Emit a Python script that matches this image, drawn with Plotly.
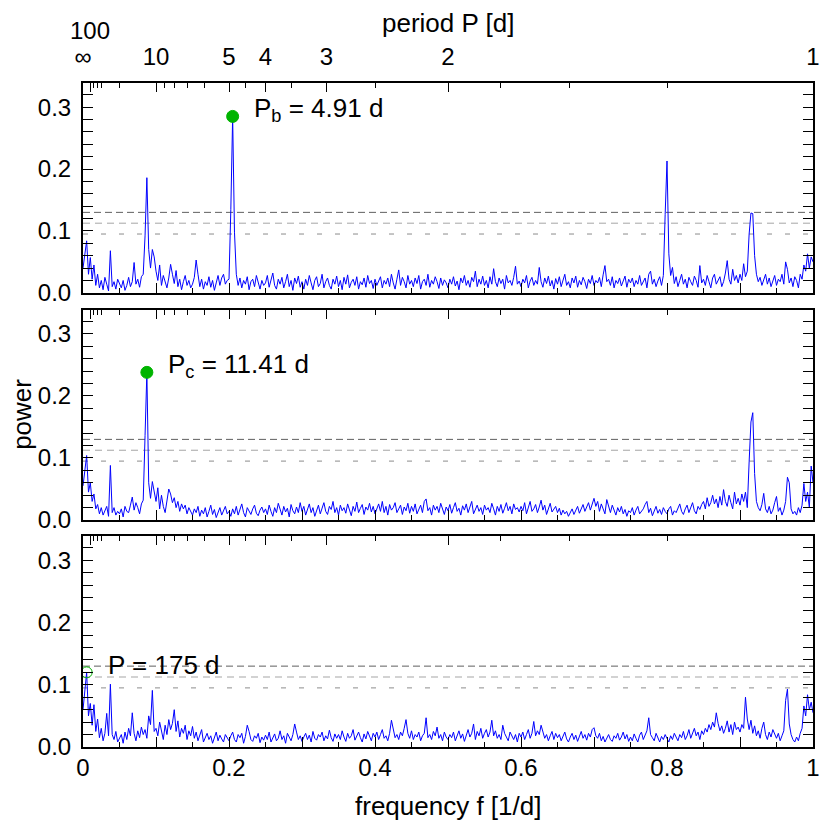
import numpy as np
import plotly.graph_objects as go

# ---------------- data ----------------
# frequency grid [1/d], 0 .. 1 in steps of 0.0025
freq = np.round(np.linspace(0.0, 1.0, 401), 4)

# GLS power, in units of 0.001
power_b_milli = [
    40, 62, 84, 30, 57, 22, 45, 12, 30, 8, 20, 5, 25, 14, 3, 68, 10, 18, 6, 22,
    15, 8, 20, 4, 12, 25, 10, 18, 49, 14, 22, 9, 26, 30, 92, 186, 70, 40, 70, 58,
    35, 20, 45, 12, 28, 18, 8, 24, 46, 30, 15, 36, 10, 22, 5, 18, 28, 12, 20, 8,
    14, 25, 53, 30, 10, 22, 6, 18, 12, 26, 9, 20, 4, 16, 28, 12, 24, 30, 14, 20,
    22, 135, 285, 98, 30, 12, 24, 8, 20, 14, 26, 5, 18, 22, 10, 28, 15, 6, 20, 12,
    16, 28, 9, 20, 32, 12, 6, 22, 14, 25, 8, 18, 30, 10, 20, 4, 24, 15, 27, 9,
    18, 6, 22, 12, 28, 16, 5, 20, 26, 10, 15, 30, 8, 18, 24, 12, 6, 22, 14, 27,
    10, 20, 5, 25, 14, 29, 8, 17, 22, 12, 26, 6, 18, 13, 24, 9, 28, 15, 20, 7,
    22, 12, 18, 26, 8, 20, 14, 24, 10, 30, 16, 6, 22, 37, 12, 25, 18, 8, 28, 14,
    20, 10, 24, 15, 28, 6, 18, 22, 12, 30, 9, 20, 14, 26, 18, 7, 24, 12, 21, 16,
    8, 22, 14, 26, 11, 19, 5, 24, 16, 28, 12, 20, 9, 25, 18, 35, 10, 22, 14, 27,
    12, 20, 8, 26, 14, 39, 18, 10, 24, 15, 22, 6, 28, 16, 20, 12, 25, 43, 14, 19,
    10, 22, 16, 28, 8, 19, 25, 12, 20, 14, 41, 18, 9, 24, 15, 27, 11, 20, 6, 23,
    14, 26, 10, 21, 30, 12, 18, 8, 24, 16, 27, 9, 20, 13, 25, 18, 7, 22, 15, 28,
    12, 20, 16, 25, 10, 29, 44, 18, 22, 12, 26, 8, 20, 15, 24, 11, 19, 27, 9, 22,
    16, 24, 10, 20, 14, 28, 12, 18, 24, 8, 30, 35, 14, 22, 10, 19, 26, 12, 28, 127,
    213, 63, 28, 41, 15, 26, 10, 20, 30, 14, 22, 8, 25, 18, 12, 27, 20, 9, 44, 16,
    22, 12, 28, 18, 8, 24, 30, 14, 20, 26, 10, 18, 32, 52, 22, 14, 38, 20, 28, 16,
    30, 20, 47, 26, 35, 95, 129, 128, 60, 30, 18, 25, 12, 22, 30, 14, 24, 10, 20, 28,
    12, 22, 18, 30, 14, 50, 38, 16, 24, 10, 26, 20, 8, 30, 22, 45, 35, 63, 40, 58,
    50,
]

power_c_milli = [
    55, 80, 104, 45, 60, 30, 42, 18, 25, 10, 20, 8, 15, 22, 6, 88, 12, 20, 8, 14,
    10, 18, 5, 22, 14, 12, 24, 37, 16, 28, 20, 10, 26, 32, 136, 238, 60, 35, 62, 45,
    30, 52, 18, 40, 22, 12, 35, 50, 42, 28, 36, 20, 30, 14, 26, 18, 24, 10, 20, 15,
    8, 18, 12, 22, 6, 16, 10, 20, 5, 14, 24, 9, 17, 4, 12, 20, 8, 15, 22, 10,
    14, 6, 18, 10, 22, 8, 16, 26, 12, 5, 20, 14, 9, 18, 24, 11, 7, 16, 21, 12,
    18, 9, 24, 14, 6, 20, 12, 27, 16, 8, 22, 13, 19, 5, 25, 15, 10, 21, 12, 28,
    14, 22, 8, 18, 26, 12, 20, 6, 16, 24, 10, 19, 28, 14, 9, 22, 17, 30, 12, 20,
    8, 24, 15, 20, 11, 26, 18, 7, 22, 14, 29, 12, 19, 25, 9, 21, 16, 27, 13, 22,
    10, 18, 26, 14, 30, 12, 22, 8, 25, 16, 20, 28, 12, 18, 24, 9, 21, 15, 27, 11,
    22, 14, 26, 10, 18, 24, 12, 30, 34, 15, 20, 8, 24, 16, 22, 12, 27, 18, 9, 21,
    15, 25, 11, 20, 28, 14, 19, 8, 23, 16, 26, 12, 21, 30, 10, 18, 24, 14, 20, 9,
    24, 16, 20, 12, 27, 18, 8, 22, 14, 25, 11, 19, 28, 15, 22, 10, 26, 17, 20, 13,
    22, 15, 28, 10, 20, 30, 14, 18, 25, 12, 21, 32, 16, 24, 9, 20, 27, 13, 18, 22,
    12, 19, 8, 16, 10, 14, 6, 13, 18, 9, 15, 22, 11, 17, 25, 14, 20, 28, 16, 24,
    35, 22, 30, 14, 26, 18, 10, 33, 20, 12, 24, 16, 8, 20, 13, 22, 10, 17, 6, 15,
    12, 20, 8, 16, 22, 10, 14, 18, 25, 30, 12, 19, 7, 15, 22, 11, 17, 9, 20, 14,
    10, 18, 22, 8, 15, 12, 20, 26, 14, 9, 18, 24, 12, 20, 28, 15, 10, 22, 17, 25,
    30, 18, 36, 22, 28, 40, 26, 34, 20, 38, 24, 49, 30, 22, 40, 28, 18, 45, 26, 35,
    24, 42, 30, 45, 20, 94, 158, 173, 75, 30, 20, 15, 25, 43, 18, 12, 22, 10, 16, 28,
    38, 14, 20, 8, 16, 30, 69, 60, 18, 10, 14, 8, 20, 12, 24, 59, 30, 45, 20, 87,
    60,
]

power_r_milli = [
    60, 90, 120, 50, 70, 35, 68, 25, 45, 15, 30, 10, 22, 54, 18, 101, 20, 12, 25, 8,
    14, 20, 6, 24, 12, 30, 18, 55, 22, 10, 26, 15, 32, 20, 28, 14, 50, 36, 91, 25,
    30, 18, 40, 24, 12, 35, 20, 44, 28, 38, 60, 25, 42, 16, 30, 22, 35, 12, 26, 18,
    33, 14, 24, 10, 20, 28, 8, 16, 22, 12, 18, 6, 15, 24, 10, 19, 13, 8, 20, 14,
    10, 18, 24, 12, 8, 20, 15, 22, 6, 17, 35, 25, 12, 9, 18, 14, 22, 7, 16, 11,
    19, 12, 24, 8, 16, 21, 10, 14, 26, 12, 18, 6, 22, 15, 10, 20, 37, 24, 12, 18,
    9, 16, 22, 12, 19, 8, 25, 14, 11, 20, 16, 24, 10, 18, 13, 27, 15, 9, 21, 14,
    20, 12, 26, 16, 9, 22, 14, 18, 28, 11, 19, 24, 15, 8, 21, 13, 25, 17, 10, 22,
    16, 24, 12, 20, 28, 14, 18, 10, 22, 43, 26, 15, 20, 12, 24, 18, 30, 44, 22, 14,
    26, 12, 20, 16, 24, 10, 18, 22, 47, 15, 20, 12, 25, 18, 32, 14, 20, 10, 24, 16,
    12, 20, 15, 24, 10, 18, 26, 14, 21, 9, 19, 28, 16, 22, 37, 12, 25, 18, 30, 14,
    22, 28, 16, 24, 43, 18, 26, 14, 20, 12, 35, 22, 16, 10, 24, 18, 12, 20, 8, 22,
    16, 24, 12, 20, 28, 14, 22, 41, 18, 26, 20, 35, 24, 14, 20, 10, 18, 25, 12, 22,
    15, 20, 10, 18, 24, 13, 8, 16, 22, 12, 19, 9, 17, 25, 14, 20, 11, 22, 16, 28,
    31, 18, 14, 22, 10, 17, 8, 15, 20, 12, 9, 18, 14, 22, 11, 16, 24, 13, 20, 9,
    16, 10, 21, 14, 8, 19, 24, 12, 18, 26, 47, 20, 15, 10, 22, 14, 8, 17, 12, 20,
    14, 8, 18, 12, 22, 16, 10, 20, 15, 25, 12, 18, 28, 14, 22, 30, 18, 24, 12, 26,
    20, 30, 24, 36, 28, 40, 32, 55, 38, 26, 34, 22, 30, 42, 24, 36, 20, 40, 28, 32,
    24, 36, 30, 80, 45, 28, 43, 22, 34, 18, 26, 14, 30, 40, 20, 12, 24, 16, 28, 20,
    14, 22, 10, 18, 26, 75, 93, 37, 20, 12, 8, 16, 10, 22, 30, 66, 50, 84, 60, 72,
    55,
]

# false-alarm-probability levels (power)
fap_levels = [0.13, 0.1125, 0.095]

# peak labels
peak_labels = ["P<sub>b</sub> = 4.91 d", "P<sub>c</sub> = 11.41 d", "P = 175 d"]
peak_filled = [True, True, False]

# bottom frequency axis ticks
freq_ticks = [0.0, 0.1, 0.2, 0.3, 0.4, 0.5, 0.6, 0.7, 0.8, 0.9, 1.0]
freq_ticktext = ["0", "", "0.2", "", "0.4", "", "0.6", "", "0.8", "", "1"]
freq_minor = [0.05, 0.15, 0.25, 0.35, 0.45, 0.55, 0.65, 0.75, 0.85, 0.95]

# top period axis ticks [d]
period_major = [100, 10, 5, 4, 3, 2, 1]
period_major_text = ["100", "10", "5", "4", "3", "2", "1"]
period_minor = [70, 50, 40, 20, 9, 8, 7, 6, 4.5, 3.5, 2.5, 1.75, 1.5, 1.25]

# power axis ticks
power_ticks = [0.0, 0.1, 0.2, 0.3]
power_ticktext = ["0.0", "0.1", "0.2", "0.3"]
power_minor = [0.02, 0.04, 0.06, 0.08, 0.12, 0.14, 0.16, 0.18,
               0.22, 0.24, 0.26, 0.28, 0.32]

# ---------------- figure ----------------
assert len(power_b_milli) == len(power_c_milli) == len(power_r_milli) == len(freq)
powers = [np.array(p) / 1000.0 for p in (power_b_milli, power_c_milli, power_r_milli)]

FONT = "Liberation Sans, Arial, Helvetica, sans-serif"
FS = 24      # tick labels
FT = 26      # titles / peak labels
GREEN = "rgb(0,180,0)"
BLUE = "rgb(0,0,255)"
fap_styles = [("rgb(95,95,95)", "7px,4px"),
              ("rgb(165,165,165)", "7px,5px"),
              ("rgb(140,140,140)", "5px,13px")]

domains = [[0.684, 1.0], [0.3418, 0.6586], [0.0, 0.3176]]
YMAX = 0.339

fig = go.Figure()
layout = dict(
    width=822, height=822,
    margin=dict(l=75, r=17, t=75, b=83, autoexpand=False),
    paper_bgcolor="white", plot_bgcolor="white",
    font=dict(family=FONT, size=FS, color="black"),
    showlegend=False,
)
shapes = []
annotations = []

period_tickvals = [0.0] + [1.0 / p for p in period_major]
period_ticktext = ["∞", ""] + period_major_text[1:]
period_minor_vals = [1.0 / p for p in period_minor]

for k in range(3):
    xa = "x" if k == 0 else f"x{k + 1}"
    ya = "y" if k == 0 else f"y{k + 1}"
    xt = f"x{k + 4}"
    pw = powers[k]

    fig.add_trace(go.Scatter(
        x=freq, y=pw, mode="lines", xaxis=xa, yaxis=ya,
        line=dict(color=BLUE, width=1), hoverinfo="skip"))
    # invisible companion trace so that the top (period) axis gets drawn
    fig.add_trace(go.Scatter(
        x=freq[:1], y=pw[:1], mode="markers", xaxis=xt, yaxis=ya,
        marker=dict(opacity=0, size=1), hoverinfo="skip"))

    i = int(np.argmax(pw))
    fig.add_trace(go.Scatter(
        x=[freq[i]], y=[pw[i]], mode="markers", xaxis=xa, yaxis=ya,
        marker=dict(size=12 if peak_filled[k] else 11,
                    color=GREEN if peak_filled[k] else "rgba(0,0,0,0)",
                    line=dict(color=GREEN, width=1)),
        hoverinfo="skip"))
    annotations.append(dict(
        x=freq[i], y=pw[i], xref=xa, yref=ya, text=peak_labels[k],
        showarrow=False, xanchor="left", yanchor="middle",
        xshift=19, yshift=7, font=dict(size=FT, family=FONT, color="black")))

    for lvl, (col, dash) in zip(fap_levels, fap_styles):
        shapes.append(dict(type="line", xref=xa, yref=ya, x0=0, x1=1,
                           y0=lvl, y1=lvl, layer="below",
                           line=dict(color=col, width=1, dash=dash)))

    layout["xaxis" if k == 0 else f"xaxis{k + 1}"] = dict(
        domain=[0, 1], range=[0, 1], anchor=ya,
        tickmode="array", tickvals=freq_ticks, ticktext=freq_ticktext,
        showticklabels=(k == 2), ticks="inside", ticklen=10, tickwidth=1,
        tickcolor="black", tickangle=0, ticklabelstandoff=-2,
        minor=dict(tickmode="array", tickvals=freq_minor, ticks="inside",
                   ticklen=5, tickwidth=1, tickcolor="black"),
        showline=True, linecolor="black", linewidth=2, mirror=False,
        showgrid=False, zeroline=False, tickfont=dict(size=FS))
    layout[f"xaxis{k + 4}"] = dict(
        overlaying=xa, side="top", anchor=ya, range=[0, 1],
        tickmode="array", tickvals=period_tickvals, ticktext=period_ticktext,
        showticklabels=(k == 0), ticks="inside", ticklen=9, tickwidth=1,
        tickcolor="black", tickangle=0, ticklabelstandoff=6,
        minor=dict(tickmode="array", tickvals=period_minor_vals,
                   ticks="inside", ticklen=5, tickwidth=1, tickcolor="black"),
        showline=True, linecolor="black", linewidth=2,
        showgrid=False, zeroline=False, tickfont=dict(size=FS))
    layout["yaxis" if k == 0 else f"yaxis{k + 1}"] = dict(
        domain=domains[k], range=[0, YMAX], anchor=xa,
        tickmode="array", tickvals=power_ticks, ticktext=power_ticktext,
        ticks="inside", ticklen=10, tickwidth=1, tickcolor="black",
        ticklabelstandoff=5,
        minor=dict(tickmode="array", tickvals=power_minor, ticks="inside",
                   ticklen=5, tickwidth=1, tickcolor="black"),
        showline=True, linecolor="black", linewidth=2, mirror="allticks",
        showgrid=False, zeroline=False, tickfont=dict(size=FS))

# "100" label of the period axis sits above the infinity sign
annotations.append(dict(x=1.0 / period_major[0], y=1, xref="x", yref="paper",
                        text=period_major_text[0], showarrow=False,
                        xanchor="center", yanchor="middle", yshift=53,
                        borderpad=0,
                        font=dict(size=FS, family=FONT)))
annotations.append(dict(x=0.5, y=1, xref="paper", yref="paper",
                        text="period P [d]", showarrow=False,
                        xanchor="center", yanchor="middle", yshift=60,
                        borderpad=0,
                        font=dict(size=FT, family=FONT)))
annotations.append(dict(x=0.5, y=0, xref="paper", yref="paper",
                        text="frequency f [1/d]", showarrow=False,
                        xanchor="center", yanchor="middle", yshift=-59,
                        font=dict(size=FT, family=FONT)))
annotations.append(dict(x=0, y=sum(domains[1]) / 2, xref="paper", yref="paper",
                        text="power", showarrow=False, textangle=-90,
                        xanchor="center", yanchor="middle", xshift=-61,
                        font=dict(size=FT, family=FONT)))

layout["shapes"] = shapes
layout["annotations"] = annotations
fig.update_layout(**layout)
fig.write_html("out.html")
